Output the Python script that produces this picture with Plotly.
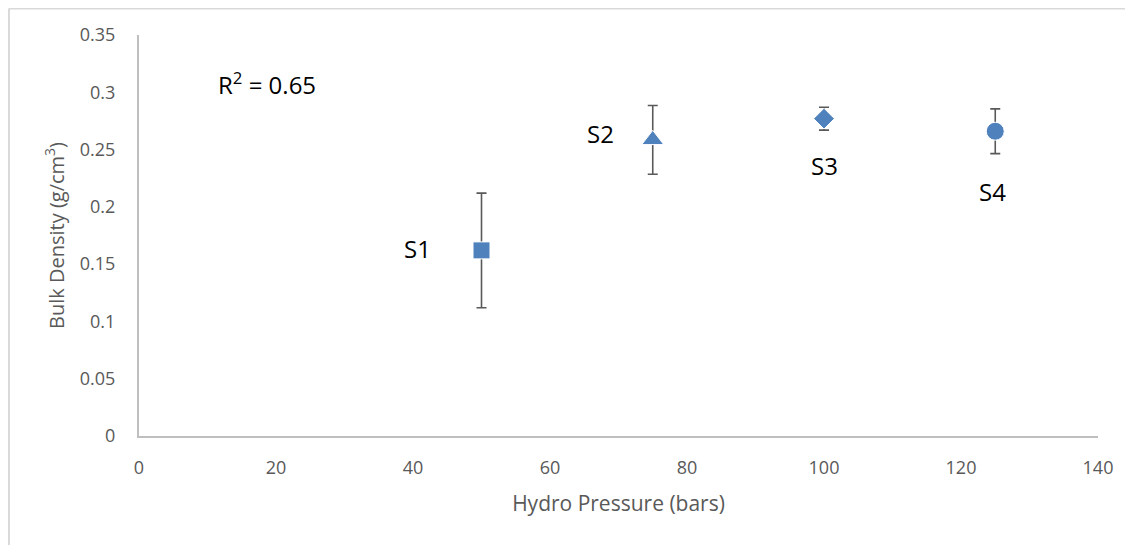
import plotly.graph_objects as go

pressure = [50, 75, 100, 125]
density = [0.162, 0.2585, 0.277, 0.266]
density_err = [0.05, 0.03, 0.01, 0.0195]
sample_names = ["S1", "S2", "S3", "S4"]
symbols = ["square", "triangle-up", "diamond", "circle"]
# label positions (data coords) next to each point
label_x = [40.7, 67.4, 100, 124.6]
label_y = [0.164, 0.264, 0.236, 0.213]

x_ticks = [0, 20, 40, 60, 80, 100, 120, 140]
y_ticks = [0, 0.05, 0.1, 0.15, 0.2, 0.25, 0.3, 0.35]
y_ticktext = ["0", "0.05", "0.1", "0.15", "0.2", "0.25", "0.3", "0.35"]

fig = go.Figure()
fig.add_trace(go.Scatter(
    x=pressure, y=density, mode="markers",
    marker=dict(symbol=symbols, size=[17, 19, 16, 18], color="#4f81bd",
                opacity=1),
    error_y=dict(type="data", array=density_err, color="#595959",
                 thickness=1.6, width=5),
    showlegend=False, cliponaxis=False,
))

for name, lx, ly in zip(sample_names, label_x, label_y):
    fig.add_annotation(x=lx, y=ly, text=name, showarrow=False,
                       font=dict(size=24, color="#000000"))

fig.add_annotation(x=18.7, y=0.308, text="R<sup>2</sup> = 0.65",
                   showarrow=False, font=dict(size=24, color="#000000"))

# outer chart border (light grey)
fig.add_shape(type="line", xref="paper", yref="paper",
              x0=-0.1356, x1=1.2, y0=1.066, y1=1.066,
              line=dict(color="#d9d9d9", width=2))
fig.add_shape(type="line", xref="paper", yref="paper",
              x0=-0.1356, x1=-0.1356, y0=1.066, y1=-0.4,
              line=dict(color="#d9d9d9", width=2))

fig.update_layout(
    width=1125, height=537,
    margin=dict(l=131, r=35, t=27, b=109),
    plot_bgcolor="white", paper_bgcolor="white",
    font=dict(family="Open Sans", color="#595959", size=18),
    xaxis=dict(range=[0, 140], tickvals=x_ticks, showgrid=False,
               zeroline=False, showline=True, linecolor="#bfbfbf",
               linewidth=2, ticks="", ticklabelstandoff=14,
               tickfont=dict(size=18),
               title=dict(text="Hydro Pressure (bars)", font=dict(size=21),
                          standoff=19)),
    yaxis=dict(range=[0, 0.35], tickvals=y_ticks, ticktext=y_ticktext,
               showgrid=False, zeroline=False, showline=True,
               linecolor="#bfbfbf", linewidth=2, ticks="",
               ticklabelstandoff=18, tickfont=dict(size=18),
               title=dict(text="Bulk Density (g/cm<sup>3</sup>)",
                          font=dict(size=20), standoff=10)),
)

fig.write_html("out.html")
